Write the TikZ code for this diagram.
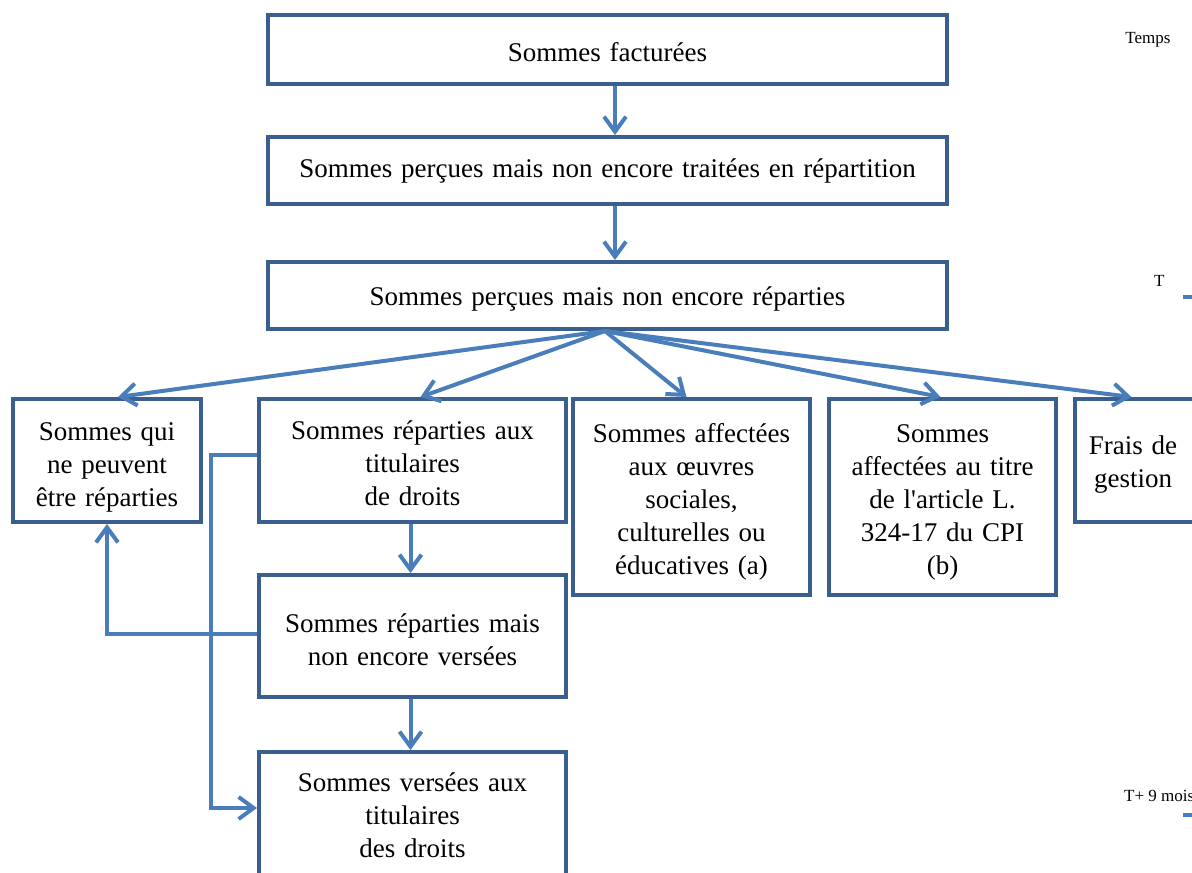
\documentclass[tikz,border=0pt]{standalone}
\usepackage{fontspec}
\setmainfont{Liberation Serif}[Ligatures=TeXOff]
\usetikzlibrary{arrows.meta}
\definecolor{boxc}{HTML}{3A5F8E}
\definecolor{linec}{HTML}{4A7EBB}
\newcommand\bxfont{\fontsize{27}{33}\selectfont\spaceskip=8.8pt\relax}
\begin{document}
\begin{tikzpicture}[x=1pt,y=-1pt,
  box/.style={draw=boxc, line width=4pt, inner sep=0pt, fill=white},
  lbl/.style={align=center, inner sep=0pt, font=\bxfont},
  conn/.style={draw=linec, line width=4pt, -{Straight Barb[length=15pt,width=22pt,line width=4pt]}},
  side/.style={inner sep=0pt, font=\fontsize{17}{19}\selectfont}]
\useasboundingbox (0,0) rectangle (1192,873);
\clip (0,0) rectangle (1192,873);
% top column
\node[box, minimum width=679pt, minimum height=69pt] (b1) at (607.5,49.5) {};
\node[box, minimum width=679pt, minimum height=67pt] (b2) at (607.5,170.5) {};
\node[box, minimum width=679pt, minimum height=67pt] (b3) at (607.5,295.5) {};
\node[lbl] (tb1) at (607.5,52) {Sommes facturées};
\node[lbl] (tb2) at (607.5,171) {Sommes perçues mais non encore traitées en répartition};
\node[lbl] (tb3) at (607.5,299) {Sommes perçues mais non encore réparties};
% row
\node[box, minimum width=188pt, minimum height=123pt] (a) at (107,460.5) {};
\node[box, minimum width=307pt, minimum height=123pt] (b) at (412.5,460.5) {};
\node[box, minimum width=237pt, minimum height=196pt] (c) at (691.5,497) {};
\node[box, minimum width=227pt, minimum height=196pt] (d) at (942.5,497) {};
\node[box, minimum width=125pt, minimum height=123pt] (e) at (1137.5,460.5) {};
\node[box, minimum width=307pt, minimum height=122pt] (f) at (412.5,636) {};
\node[box, minimum width=307pt, minimum height=126pt] (g) at (412.5,815) {};
\node[lbl] (ta) at (107,467) {Sommes qui\\ne peuvent\\être réparties};
\node[lbl] (tbb) at (412.5,463) {Sommes réparties aux\\titulaires\\de droits};
\node[lbl] (tc) at (691.5,502) {Sommes affectées\\aux œuvres\\sociales,\\culturelles ou\\éducatives (a)};
\node[lbl] (td) at (942.5,502) {Sommes\\affectées au titre\\de l'article L.\\324-17 du CPI\\(b)};
\node[lbl] (te) at (1133,465) {Frais de\\gestion};
\node[lbl] (tf) at (412.5,639.5) {Sommes réparties mais\\non encore versées};
\node[lbl] (tg) at (412.5,815.5) {Sommes versées aux\\titulaires\\des droits};
% side labels
\node[side] (temps) at (1148,40) {Temps};
\node[side, anchor=west] (t0) at (1154,281) {T};
\node[side, anchor=west] (t9) at (1124,796) {T+ 9 mois};
\coordinate (d1a) at (1183,297); \coordinate (d1b) at (1194,297);
\coordinate (d2a) at (1183,815); \coordinate (d2b) at (1194,815);
\draw[draw=linec, line width=4pt] (d1a) -- (d1b);
\draw[draw=linec, line width=4pt] (d2a) -- (d2b);
% connectors
\draw[conn] ([xshift=7.5pt]b1.south) -- ([xshift=7.5pt]b2.north);
\draw[conn] ([xshift=7.5pt]b2.south) -- ([xshift=7.5pt]b3.north);
\coordinate (fan) at (605,331);
\draw[conn] (fan) -- ([xshift=11pt]a.north);
\draw[conn] (fan) -- ([xshift=8pt]b.north);
\draw[conn] (fan) -- ([xshift=-5pt]c.north);
\draw[conn] (fan) -- ([xshift=-2pt]d.north);
\draw[conn] (fan) -- ([xshift=-6pt]e.north);
\draw[conn] ([xshift=-2pt]b.south) -- ([xshift=-2pt]f.north);
\draw[conn] ([xshift=-2pt]f.south) -- ([xshift=-2pt]g.north);
\coordinate (k1) at (211,455);
\draw[conn, line join=miter] ([yshift=5.5pt]b.west) -- (k1) |- ([yshift=7pt]g.west);
\coordinate (k2) at (107,634);
\draw[conn, line join=miter] ([yshift=2pt]f.west) -- (k2) -- (a.south);
\end{tikzpicture}
\end{document}
